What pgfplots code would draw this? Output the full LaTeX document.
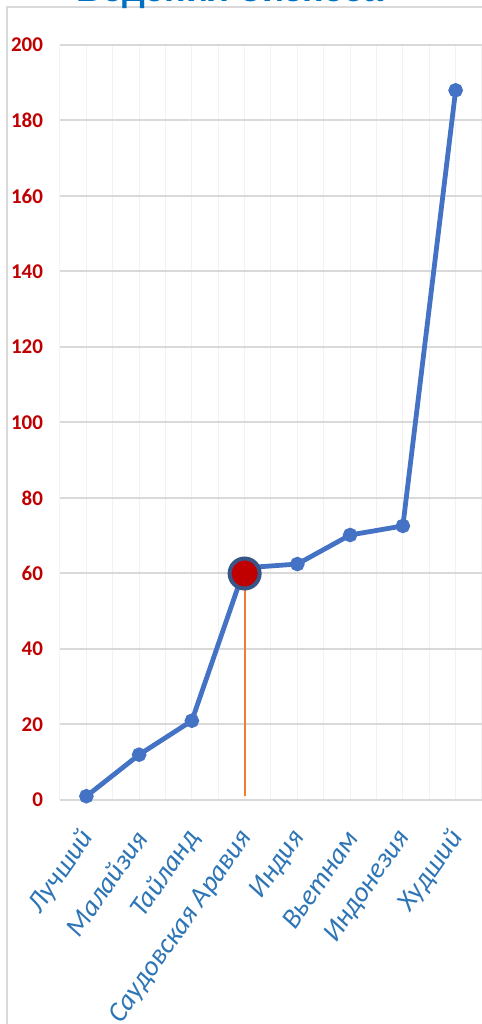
\documentclass[border=0pt]{standalone}
\usepackage{fontspec}
\setmainfont{Carlito}
\newfontfamily\titlefont{Liberation Sans}
\usepackage{pgfplots}
\pgfplotsset{compat=1.18}
\definecolor{ln}{RGB}{68,114,196}
\definecolor{tickred}{RGB}{192,0,0}
\definecolor{catblue}{RGB}{46,117,182}
\definecolor{gridc}{RGB}{217,217,217}
\definecolor{mgridc}{RGB}{242,242,242}
\definecolor{orng}{RGB}{237,125,49}
\definecolor{ttl}{RGB}{0,112,192}
\begin{document}
\begin{tikzpicture}
\draw[gridc, line width=0.8pt] (3.5pt,0) -- (3.5pt,508.5pt) -- (241pt,508.5pt);
\node[anchor=base, text=ttl, font=\titlefont\fontsize{18}{20}\selectfont\bfseries, inner sep=0pt] at (115pt,511.1pt) {Ведения бизнеса};
\begin{axis}[
  at={(30pt,112pt)}, anchor=south west,
  scale only axis, width=211pt, height=377.5pt,
  xmin=-0.5, xmax=7.5, ymin=0, ymax=200,
  clip=false,
  axis line style={draw=none},
  tick style={draw=none},
  ytick={0,20,...,200},
  xtick={0,...,7},
  xticklabels={Лучший, Малайзия, Тайланд, Саудовская Аравия, Индия, Вьетнам, Индонезия, Худший},
  minor xtick={-0.5,0.5,...,7},
  ymajorgrids, xmajorgrids, xminorgrids,
  y grid style={gridc, line width=1pt},
  x grid style={mgridc, line width=0.5pt},
  minor x grid style={mgridc, line width=0.5pt},
  /pgf/number format/assume math mode=true,
  yticklabel style={text=tickred, font=\fontsize{10.5}{12}\selectfont\bfseries, xshift=-5pt},
  xticklabel style={text=catblue, font=\fontsize{14}{16}\selectfont\itshape, yshift=-14pt, xshift=3pt, rotate=55, anchor=east},
]
\addplot[orng, line width=1pt] coordinates {(3,1) (3,60)};
\addplot[ln, line width=2.4pt, mark=*, mark size=2.4pt, mark options={fill=ln, draw=ln}] coordinates {
(0,1) (1,12) (2,21) (3,61.5) (4,62.5) (5,70.2) (6,72.6) (7,188)};
\addplot[only marks, mark=*, mark size=7.5pt, mark options={fill=tickred, draw={rgb,255:red,55;green,85;blue,135}, line width=2pt}] coordinates {(3,60)};
\end{axis}
\pgfresetboundingbox
\useasboundingbox (0,0) rectangle (241pt,512pt);
\end{tikzpicture}
\end{document}
